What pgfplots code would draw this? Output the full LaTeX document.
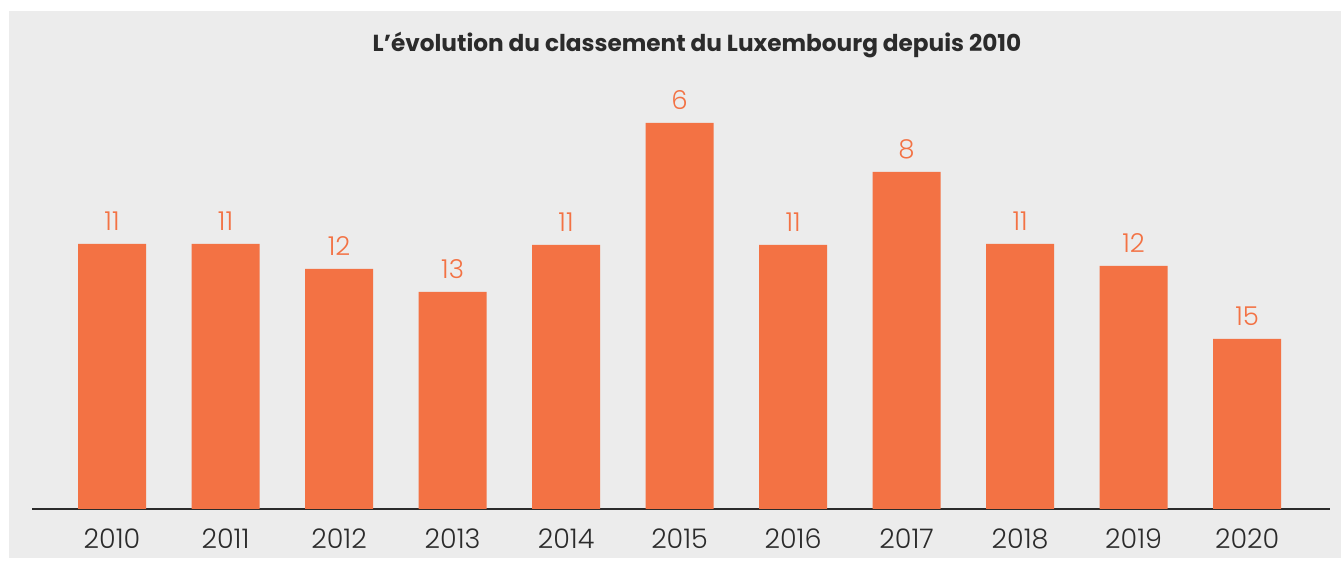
\documentclass[border=0pt]{standalone}
\usepackage{pgfplots}
\pgfplotsset{compat=1.18}
\usepackage{fontspec}
\setmainfont{Poppins}
\newfontfamily\lightfont{Poppins Light}
\definecolor{bg}{HTML}{ECECEC}
\definecolor{barc}{HTML}{F37244}
\definecolor{txt}{HTML}{2B2B2B}
\pgfplotstableread{
x h r
0 265 11
1 265 11
2 240 12
3 217 13
4 264 11
5 386 6
6 264 11
7 337 8
8 265 11
9 243 12
10 170 15
}\datatable
\begin{document}
\begin{tikzpicture}
\fill[white] (-16pt,-24.5pt) rectangle (654.5pt,254.5pt);
\fill[bg] (-11.5pt,-24.5pt) rectangle (654.5pt,249pt);
\begin{axis}[
  at={(0pt,0pt)}, anchor=south west,
  scale only axis, width=649pt, height=214.5pt,
  xmin=-0.705, xmax=10.73, ymin=0, ymax=429,
  axis y line=none, axis x line*=bottom,
  x axis line style={txt, line width=0.9pt, -},
  xtick=data,
  xticklabels={2010,2011,2012,2013,2014,2015,2016,2017,2018,2019,2020},
  typeset ticklabels with strut,
  major tick length=0pt,
  xticklabel style={font=\lightfont\fontsize{13.5}{14}\selectfont, text=txt, yshift=-6.5pt},
  ybar, bar width=34pt,
  nodes near coords,
  point meta=explicit symbolic,
  every node near coord/.append style={font=\lightfont\fontsize{13}{14}\selectfont, text=barc, yshift=3pt},
]
\addplot[fill=barc, draw=none] table[x=x, y=h, meta=r] {\datatable};
\end{axis}
\node[text=txt, font=\bfseries\fontsize{11.6}{13}\selectfont] at (332.5pt,232pt) {L’évolution du classement du Luxembourg depuis 2010};
\end{tikzpicture}
\end{document}
